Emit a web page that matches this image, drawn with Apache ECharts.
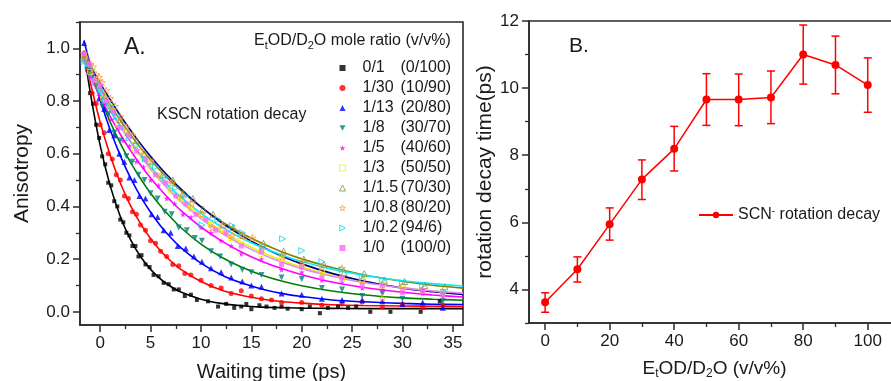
<!DOCTYPE html>
<html><head><meta charset="utf-8">
<script src="https://cdn.jsdelivr.net/npm/echarts@6/dist/echarts.min.js"></script>
<style>html,body{margin:0;padding:0;background:#fff}#c{width:891px;height:381px}</style>
</head><body><div id="c"></div>
<script>
// ---------- Panel A data ----------
const A_LABELS = ['0/1','1/30','1/13','1/8','1/5','1/3','1/1.5','1/0.8','1/0.2','1/0'];
const A_VV = ['(0/100)','(10/90)','(20/80)','(30/70)','(40/60)','(50/50)','(70/30)','(80/20)','(94/6)','(100/0)'];

const T_0_1 = [-1.6,-1.3,-1.0,-0.7,-0.4,-0.1,0.2,0.5,0.8,1.1,1.4,1.7,2.0,2.3,2.6,2.9,3.2,3.5,3.8,4.1,4.5,4.9,5.3,5.8,6.3,6.8,7.3,7.8,8.4,9.0,9.6,10.7,11.7,12.5,13.3,14.0,14.5,15.0,15.8,16.5,17.3,18.0,18.6,20.0,20.8,21.8,22.6,23.6,24.6,25.4,26.8,28.8,31.8,33.7];
const Y_0_1 = [0.98,0.92,0.83,0.79,0.71,0.66,0.59,0.56,0.49,0.48,0.42,0.40,0.35,0.34,0.30,0.29,0.25,0.25,0.21,0.215,0.18,0.17,0.14,0.135,0.11,0.105,0.085,0.085,0.06,0.065,0.045,0.04,0.02,0.03,0.015,0.02,0.03,0.01,0.025,0.02,0.015,0.02,0.012,0.01,0.02,-0.005,0.015,0.02,0.015,0.02,0.0,0.0,0.0,0.04];

const T_1_30 = [-1.6,-1.2,-0.8,-0.4,0,0.4,0.8,1.2,1.6,2.0,2.4,2.8,3.2,3.6,4.0,4.5,5.0,5.5,6.0,6.6,7.2,7.8,8.4,9.0,10.0,11.0,12.0,13.0,14.0,15.0,16.0,17.0,18.0,20.0,22.0,24.0,26.0,28.0,30.0,32.0,34.0];
const Y_1_30 = [0.97,0.92,0.83,0.79,0.71,0.68,0.60,0.58,0.52,0.50,0.44,0.43,0.38,0.37,0.33,0.31,0.27,0.26,0.23,0.21,0.18,0.175,0.145,0.14,0.12,0.10,0.09,0.07,0.08,0.06,0.05,0.045,0.035,0.035,0.025,0.03,0.037,0.018,0.03,0.015,0.025];

const T_1_13 = [-1.6,-1.1,-0.6,-0.1,0.4,0.9,1.4,1.9,2.4,2.9,3.4,3.9,4.5,5.1,5.7,6.3,7.0,7.7,8.5,9.3,10.1,11.0,12.0,13.0,14.1,15.0,16.0,18.0,20.0,22.0,24.0,26.0,28.0,30.0,32.0,34.0];
const Y_1_13 = [1.02,0.95,0.90,0.81,0.77,0.69,0.67,0.60,0.57,0.51,0.50,0.44,0.43,0.37,0.36,0.31,0.30,0.25,0.24,0.21,0.19,0.165,0.15,0.13,0.115,0.10,0.095,0.07,0.065,0.05,0.045,0.045,0.04,0.03,0.035,0.015];

const T_1_8 = [-1.6,-1.0,-0.4,0.2,0.8,1.4,2.0,2.6,3.2,3.8,4.4,5.0,5.7,6.4,7.1,7.8,8.6,9.4,10.1,11.0,11.9,13.0,14.1,15.0,16.0,18.0,20.0,22.0,24.0,26.0,28.0,30.0,32.0,34.0];
const Y_1_8 = [0.97,0.92,0.86,0.78,0.75,0.68,0.65,0.59,0.57,0.52,0.50,0.45,0.43,0.38,0.37,0.32,0.31,0.28,0.27,0.23,0.21,0.18,0.16,0.15,0.14,0.13,0.125,0.09,0.085,0.06,0.07,0.05,0.075,0.04];

const T_1_5 = [-1.6,-1.1,-0.6,-0.1,0.5,1.1,1.7,2.3,2.9,3.6,4.3,5.0,5.8,6.6,7.4,8.2,9.0,10.0,11.0,12.0,13.0,14.0,16.0,18.0,20.0,22.0,24.0,26.0,28.0,30.0,32.0,34.0];
const Y_1_5 = [0.96,0.90,0.87,0.82,0.79,0.73,0.70,0.65,0.63,0.57,0.55,0.50,0.48,0.43,0.41,0.37,0.36,0.32,0.30,0.27,0.25,0.22,0.20,0.16,0.15,0.12,0.115,0.09,0.085,0.075,0.07,0.06];

const T_1_3 = [-1.6,-1.0,-0.4,0.3,1.0,1.8,2.6,3.4,4.2,5.0,6.0,7.0,8.0,9.0,10.0,11.0,12.0,13.0,14.0,16.0,18.0,20.0,22.0,24.0,26.0,28.0,30.0,32.0,34.0];
const Y_1_3 = [0.97,0.91,0.88,0.81,0.78,0.71,0.68,0.62,0.59,0.54,0.51,0.46,0.43,0.39,0.37,0.33,0.31,0.28,0.27,0.22,0.20,0.17,0.15,0.125,0.12,0.10,0.095,0.08,0.075];

const T_1_15 = [-1.6,-0.9,-0.2,0.5,1.2,2.0,2.8,3.6,4.4,5.2,6.2,7.2,8.2,9.2,10.2,11.2,12.2,13.2,14.2,16.2,18.2,20.2,22.2,24.2,26.2,28.2,30.2,32.2,34.2];
const Y_1_15 = [0.96,0.92,0.86,0.82,0.77,0.73,0.68,0.65,0.60,0.57,0.52,0.50,0.45,0.43,0.39,0.37,0.33,0.32,0.29,0.26,0.23,0.20,0.18,0.15,0.145,0.12,0.115,0.10,0.095];

const T_1_08 = [-1.6,-1.3,-1.0,-0.7,-0.4,-0.1,0.2,0.6,1.0,1.5,2.0,2.6,3.2,4.0,5.0,6.0,7.1,8.1,9.1,10.1,11.1,12.1,13.1,14.1,15.1,16.1,18.1,20.0,22.0,24.0,26.0,28.0,30.0,32.0,34.0];
const Y_1_08 = [0.98,0.96,0.94,0.93,0.90,0.89,0.87,0.84,0.81,0.78,0.74,0.70,0.67,0.61,0.57,0.52,0.49,0.44,0.41,0.37,0.32,0.33,0.29,0.29,0.28,0.25,0.21,0.19,0.17,0.165,0.12,0.052,0.10,0.085,0.07];

const T_1_02 = [-1.6,-1.2,-0.8,-0.4,0,0.5,1.0,1.6,2.2,2.9,3.6,4.5,5.5,6.5,7.5,8.5,10.1,11.7,13.1,14.1,16.1,18.1,20.0,22.0,24.0,26.0,28.0,30.0,32.0,34.1];
const Y_1_02 = [0.95,0.93,0.89,0.87,0.84,0.80,0.78,0.74,0.70,0.66,0.63,0.58,0.55,0.51,0.47,0.44,0.33,0.35,0.327,0.30,0.25,0.277,0.232,0.19,0.16,0.134,0.12,0.11,0.10,0.075];

const T_1_0 = [-1.6,-1.1,-0.6,0.0,0.6,1.3,2.0,2.8,3.6,4.5,5.5,6.5,7.5,8.5,9.5,10.5,11.5,12.5,14.0,16.0,18.0,20.0,22.0,24.0,26.0,28.0,30.0,32.0,34.0];
const Y_1_0 = [0.98,0.94,0.88,0.86,0.80,0.76,0.70,0.67,0.61,0.58,0.52,0.49,0.44,0.41,0.37,0.35,0.31,0.30,0.25,0.23,0.18,0.17,0.13,0.13,0.10,0.10,0.075,0.08,0.065];

// fitted curves
const FIT_T = [-1.6,-1,0,1,2,3,4,5,6,7,8,10,12,14,16,18,20,23,26,30,33,36];
const FIT_0_1 = [0.991,0.837,0.632,0.478,0.362,0.275,0.210,0.161,0.124,0.096,0.075,0.048,0.032,0.023,0.018,0.016,0.014,0.013,0.012,0.012,0.012,0.012];
const FIT_1_30 = [0.984,0.875,0.720,0.593,0.489,0.404,0.335,0.278,0.231,0.193,0.161,0.115,0.083,0.063,0.049,0.039,0.033,0.027,0.024,0.022,0.021,0.020];
const FIT_1_13 = [1.030,0.939,0.805,0.690,0.593,0.509,0.438,0.378,0.326,0.282,0.244,0.185,0.141,0.110,0.087,0.070,0.058,0.045,0.038,0.032,0.029,0.028];
const FIT_1_8 = [0.983,0.914,0.811,0.720,0.639,0.568,0.506,0.450,0.402,0.359,0.320,0.257,0.208,0.170,0.140,0.117,0.099,0.079,0.065,0.053,0.048,0.044];
const FIT_1_5 = [0.950,0.897,0.815,0.741,0.674,0.613,0.558,0.508,0.463,0.422,0.385,0.322,0.270,0.227,0.192,0.164,0.141,0.113,0.093,0.074,0.064,0.056];
const FIT_1_3 = [0.965,0.916,0.840,0.770,0.707,0.649,0.596,0.548,0.504,0.463,0.427,0.362,0.309,0.264,0.227,0.196,0.170,0.139,0.115,0.092,0.080,0.070];
const FIT_1_15 = [0.964,0.920,0.850,0.786,0.727,0.673,0.623,0.577,0.535,0.496,0.461,0.398,0.344,0.299,0.261,0.228,0.201,0.168,0.142,0.116,0.101,0.090];
const FIT_1_08 = [0.975,0.935,0.868,0.805,0.745,0.690,0.638,0.590,0.546,0.505,0.467,0.398,0.340,0.290,0.248,0.212,0.182,0.146,0.118,0.090,0.076,0.066];
const FIT_1_02 = [0.950,0.903,0.830,0.763,0.703,0.647,0.597,0.550,0.508,0.470,0.435,0.374,0.323,0.280,0.245,0.216,0.191,0.162,0.140,0.118,0.107,0.098];
const FIT_1_0 = [0.977,0.925,0.845,0.772,0.706,0.646,0.592,0.542,0.497,0.456,0.418,0.354,0.300,0.256,0.219,0.189,0.164,0.135,0.112,0.091,0.079,0.071];

const A_X_TICKS = [0,5,10,15,20,25,30,35];
const A_X_MINOR = [-2.5,2.5,7.5,12.5,17.5,22.5,27.5,32.5];
const A_Y_TICKS = [0,0.2,0.4,0.6,0.8,1.0];
const A_Y_MINOR = [0.1,0.3,0.5,0.7,0.9,1.1];

// ---------- Panel B data ----------
const B_X = [0,10,20,30,40,50,60,70,80,90,100];
const B_Y = [3.62,4.60,5.94,7.28,8.19,9.66,9.66,9.72,11.0,10.69,10.09];
const B_LO = [3.32,4.22,5.47,6.68,7.53,8.89,8.88,8.94,10.12,9.83,9.28];
const B_HI = [3.90,4.97,6.43,7.86,8.86,10.43,10.42,10.51,11.88,11.55,10.90];
const B_X_TICKS = [0,20,40,60,80,100];
const B_X_MINOR = [10,30,50,70,90,110];
const B_Y_TICKS = [4,6,8,10,12];
const B_Y_MINOR = [3,5,7,9,11];

// ---------- build ----------
const FF = '"Liberation Sans", Arial, sans-serif';
const AX = '#2b2b2b';
const STAR = 'path://M5,0 L6.1,3.5 L9.8,3.5 L6.8,5.7 L7.9,9.1 L5,7 L2.1,9.1 L3.2,5.7 L0.2,3.5 L3.9,3.5 Z';
const DOWN = 'path://M0,0 L10,0 L5,9 Z';
const RIGHT = 'path://M0,0 L9,5 L0,10 Z';

const scatterDefs = [
  {t:T_0_1, y:Y_0_1, sym:'rect', size:4, color:'#000000'},
  {t:T_1_30, y:Y_1_30, sym:'circle', size:5, color:'#ff0000'},
  {t:T_1_13, y:Y_1_13, sym:'triangle', size:6, color:'#0000ff'},
  {t:T_1_8, y:Y_1_8, sym:DOWN, size:6, color:'#008080'},
  {t:T_1_5, y:Y_1_5, sym:STAR, size:6, color:'#ff00ff'},
  {t:T_1_3, y:Y_1_3, sym:'rect', size:5, color:'#f0f000', hollow:true},
  {t:T_1_15, y:Y_1_15, sym:'triangle', size:6, color:'#8c8c40', hollow:true},
  {t:T_1_08, y:Y_1_08, sym:STAR, size:7, color:'#ff9a3c', hollow:true},
  {t:T_1_02, y:Y_1_02, sym:RIGHT, size:6, color:'#00d8f0', hollow:true},
  {t:T_1_0, y:Y_1_0, sym:'rect', size:5, color:'#ff66ff'}
];
const fitDefs = [
  {y:FIT_0_1, color:'#000000'},
  {y:FIT_1_30, color:'#ff0000'},
  {y:FIT_1_13, color:'#0000ff'},
  {y:FIT_1_8, color:'#008000'},
  {y:FIT_1_5, color:'#ff00ff'},
  {y:FIT_1_3, color:'#f0f000'},
  {y:FIT_1_15, color:'#808000'},
  {y:FIT_1_08, color:'#000080'},
  {y:FIT_1_02, color:'#00f0ff'},
  {y:FIT_1_0, color:'#dd88ff'}
];

const series = [];
fitDefs.forEach((f, i) => {
  series.push({
    type:'line', name:'fit'+i, xAxisIndex:0, yAxisIndex:0, smooth:0.35, showSymbol:false, symbol:'none',
    lineStyle:{color:f.color, width:1.6}, itemStyle:{color:f.color}, silent:true, z:2,
    data: FIT_T.map((t, k) => [t, f.y[k]])
  });
});
scatterDefs.forEach((s, i) => {
  series.push({
    type:'scatter', name:A_LABELS[i], xAxisIndex:0, yAxisIndex:0, symbol:s.sym, symbolSize:s.size, z:3,
    itemStyle: s.hollow ? {color:'rgba(255,255,255,0)', borderColor:s.color, borderWidth:1} : {color:s.color},
    data: s.t.map((t, k) => [t, s.y[k]])
  });
});
series.push({
  type:'custom', name:'err', xAxisIndex:2, yAxisIndex:2, z:3,
  data: B_X.map((x, i) => [x, B_LO[i], B_HI[i]]),
  encode:{x:0, y:[1,2]},
  renderItem: function(params, api){
    const x = api.value(0);
    const lo = api.coord([x, api.value(1)]);
    const hi = api.coord([x, api.value(2)]);
    const w = 4;
    const st = {stroke:'#ff0000', lineWidth:1.5};
    return {type:'group', children:[
      {type:'line', shape:{x1:lo[0], y1:lo[1], x2:hi[0], y2:hi[1]}, style:st},
      {type:'line', shape:{x1:lo[0]-w, y1:lo[1], x2:lo[0]+w, y2:lo[1]}, style:st},
      {type:'line', shape:{x1:hi[0]-w, y1:hi[1], x2:hi[0]+w, y2:hi[1]}, style:st}
    ]};
  }
});
series.push({
  type:'line', name:'SCN', xAxisIndex:2, yAxisIndex:2, symbol:'circle', symbolSize:8, z:4,
  lineStyle:{color:'#ff0000', width:1.5}, itemStyle:{color:'#ff0000'},
  data: B_X.map((x, i) => [x, B_Y[i]])
});

function majorAxis(o){
  return Object.assign({
    type:'value', splitLine:{show:false},
    axisLine:{show:true, onZero:false, lineStyle:{color:AX, width:1.6}},
    axisTick:{show:true, inside:false, length:7, lineStyle:{color:AX, width:1.5}},
    axisLabel:{show:true, color:'#1a1a1a', fontSize:17, fontFamily:FF, margin:9},
    nameTextStyle:{color:'#1a1a1a', fontSize:20, fontFamily:FF}
  }, o);
}
function minorAxis(o, vals){
  return Object.assign({
    type:'value', splitLine:{show:false},
    axisLine:{show:false, onZero:false},
    axisTick:{show:true, inside:false, length:4, lineStyle:{color:AX, width:1.3}, customValues:vals},
    axisLabel:{show:false}
  }, o);
}

const subRich = {
  n:{fontSize:19, fontFamily:FF, color:'#1a1a1a', lineHeight:22},
  s:{fontSize:12, fontFamily:FF, color:'#1a1a1a', lineHeight:10, verticalAlign:'bottom'}
};

const legendAData = A_LABELS.map((name, i) => {
  const s = scatterDefs[i];
  return s.hollow
    ? {name:name, itemStyle:{color:'rgba(255,255,255,0)', borderColor:s.color, borderWidth:1}}
    : {name:name};
});

const option = {
  animation:false,
  backgroundColor:'#ffffff',
  grid:[
    {left:80, top:22, right:428, bottom:56, show:true, borderColor:AX, borderWidth:1.6, backgroundColor:'transparent', outerBoundsMode:'none'},
    {left:529, top:21, right:-9, bottom:58, show:true, borderColor:AX, borderWidth:1.6, backgroundColor:'transparent', outerBoundsMode:'none'}
  ],
  xAxis:[
    majorAxis({gridIndex:0, position:'bottom', min:-2, max:36,
      axisTick:{show:true, length:7, lineStyle:{color:AX, width:1.5}, customValues:A_X_TICKS},
      axisLabel:{show:true, color:'#1a1a1a', fontSize:17, fontFamily:FF, margin:10, customValues:A_X_TICKS},
      name:'Waiting time (ps)', nameLocation:'middle', nameGap:37}),
    minorAxis({gridIndex:0, position:'bottom', min:-2, max:36}, A_X_MINOR),
    majorAxis({gridIndex:1, position:'bottom', min:-5, max:110,
      axisTick:{show:true, length:7, lineStyle:{color:AX, width:1.5}, customValues:B_X_TICKS},
      axisLabel:{show:true, color:'#1a1a1a', fontSize:17, fontFamily:FF, margin:10, customValues:B_X_TICKS},
      name:'{n|E}{s|t}{n|OD/D}{s|2}{n|O (v/v%)}', nameLocation:'middle', nameGap:35,
      nameTextStyle:{rich:subRich}}),
    minorAxis({gridIndex:1, position:'bottom', min:-5, max:110}, B_X_MINOR)
  ],
  yAxis:[
    majorAxis({gridIndex:0, position:'left', min:-0.05, max:1.1,
      axisTick:{show:true, length:7, lineStyle:{color:AX, width:1.5}, customValues:A_Y_TICKS},
      axisLabel:{show:true, color:'#1a1a1a', fontSize:17, fontFamily:FF, margin:10, customValues:A_Y_TICKS, formatter:v=>v.toFixed(1)},
      name:'Anisotropy', nameLocation:'middle', nameGap:47, nameTextStyle:{color:'#1a1a1a', fontSize:21, fontFamily:FF}}),
    minorAxis({gridIndex:0, position:'left', min:-0.05, max:1.1}, A_Y_MINOR),
    majorAxis({gridIndex:1, position:'left', min:3, max:12,
      axisTick:{show:true, length:7, lineStyle:{color:AX, width:1.5}, customValues:B_Y_TICKS},
      axisLabel:{show:true, color:'#1a1a1a', fontSize:17, fontFamily:FF, margin:10, customValues:B_Y_TICKS},
      name:'rotation decay time(ps)', nameLocation:'middle', nameGap:32, nameTextStyle:{color:'#1a1a1a', fontSize:21, fontFamily:FF}}),
    minorAxis({gridIndex:1, position:'left', min:3, max:12}, B_Y_MINOR)
  ],
  legend:[
    {
      data:legendAData, orient:'vertical', left:339, top:60, itemWidth:6, itemHeight:6, itemGap:4,
      selectedMode:false, padding:0,
      textStyle:{fontSize:16, lineHeight:16, color:'#1a1a1a', fontFamily:FF,
        rich:{g:{width:12, fontSize:16, lineHeight:16},
              a:{width:38, fontSize:16, lineHeight:16, fontFamily:FF, color:'#1a1a1a'},
              b:{fontSize:16, lineHeight:16, fontFamily:FF, color:'#1a1a1a'}}},
      formatter:function(name){ return '{g|}{a|' + name + '}{b|' + A_VV[A_LABELS.indexOf(name)] + '}'; }
    },
    {
      data:['SCN'], left:698, top:206, itemWidth:34, itemHeight:8, padding:0, selectedMode:false,
      textStyle:{fontSize:16, color:'#1a1a1a', fontFamily:FF,
        rich:{n:{fontSize:16, fontFamily:FF, color:'#1a1a1a', lineHeight:18},
              p:{fontSize:10, fontFamily:FF, color:'#1a1a1a', lineHeight:10, verticalAlign:'top'}}},
      formatter:function(){ return '{n|SCN}{p|-}{n| rotation decay}'; }
    }
  ],
  graphic:[
    {type:'text', left:124, top:36, style:{text:'A.', font:'23px ' + FF, fill:'#1a1a1a'}},
    {type:'text', left:157, top:107, style:{text:'KSCN rotation decay', font:'16px ' + FF, fill:'#1a1a1a'}},
    {type:'text', left:254, top:33, style:{text:'{n|E}{s|t}{n|OD/D}{s|2}{n|O mole ratio (v/v%)}',
      rich:{n:{fontSize:16, fontFamily:FF, fill:'#1a1a1a', lineHeight:20},
            s:{fontSize:11, fontFamily:FF, fill:'#1a1a1a', lineHeight:10, verticalAlign:'bottom'}}}},
    {type:'text', left:569, top:36, style:{text:'B.', font:'21px ' + FF, fill:'#1a1a1a'}}
  ],
  series:series
};

const chart = echarts.init(document.getElementById('c'), null, {renderer:'canvas'});
chart.setOption(option);
</script></body></html>
